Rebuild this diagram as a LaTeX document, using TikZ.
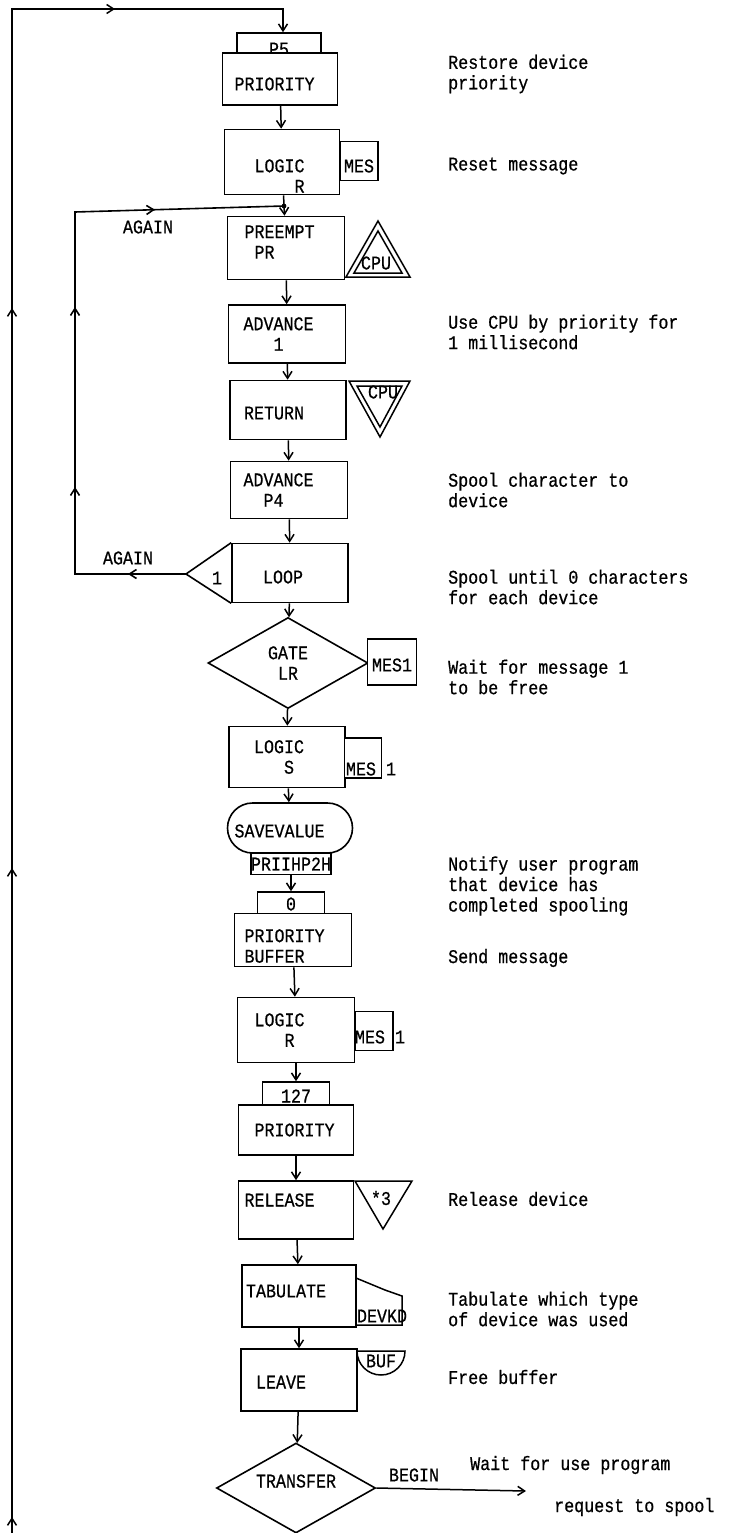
\documentclass[tikz,border=0pt]{standalone}
\usepackage{fontspec}
\setmainfont{Liberation Mono}[FakeStretch=0.86,FakeBold=0.6]
\usepackage{tikz}
\usetikzlibrary{arrows.meta,positioning,shapes.geometric,decorations.markings}

% struts to push box text down / up
\newcommand{\lowr}[1]{\rule{0pt}{#1}}
\newcommand{\raiser}[1]{\rule[-#1]{0pt}{0pt}}

\tikzset{
  barb/.tip={Straight Barb[length=7pt,width=9pt]},
  blk/.style={draw,line width=1.6pt,fill=white,inner sep=0pt,align=left},
  tabbox/.style={draw,line width=1.5pt,fill=white,inner sep=0pt},
  flow/.style={line width=1.5pt,-barb},
  note/.style={anchor=west,inner sep=0pt,align=left},
  txt/.style={inner sep=0pt}
}

\begin{document}
\begin{tikzpicture}[x=1pt,y=-1pt,font=\fontsize{19.4pt}{20.5pt}\selectfont]
\useasboundingbox (0,0) rectangle (730,1533);

% blocks, top to bottom
\node[tabbox,minimum width=84pt,minimum height=26pt] (p5) at (279,46) {\lowr{19pt}P5};
\node[blk,minimum width=115pt,minimum height=52pt,text width=91pt] (prio1) at (280,79) {\lowr{23pt}PRIORITY};
\node[blk,minimum width=115pt,minimum height=65pt,text width=55pt] (logr1) at (282,162) {\lowr{41pt}LOGIC\\\hphantom{LOGI}R};
\node[blk,minimum width=38pt,minimum height=39pt,align=center] (mes0) at (359,161) {\lowr{23pt}MES};
\node[blk,minimum width=117pt,minimum height=63pt,text width=83pt] (preempt) at (286,248) {PREEMPT\\\hphantom{P}PR\raiser{12pt}};
\node[blk,minimum width=117pt,minimum height=58pt,text width=87pt] (adv1) at (287,334) {ADVANCE\\\hphantom{ADV}1};
\node[blk,minimum width=116pt,minimum height=59pt,text width=88pt] (ret) at (288,410) {\lowr{19pt}RETURN};
\node[blk,minimum width=117pt,minimum height=57pt,text width=91pt] (adv2) at (289,490) {ADVANCE\\\hphantom{AD}P4};
\node[blk,minimum width=116pt,minimum height=59pt,text width=54pt] (loop) at (290,573) {\lowr{21pt}LOOP};
\node[draw,diamond,line width=1.6pt,minimum width=160pt,minimum height=91pt,
      inner sep=0pt,align=center] (gate) at (288,663) {GATE\\LR};
\node[blk,minimum width=49pt,minimum height=46pt,align=center] (mes1) at (392,662) {\lowr{19pt}MES1};
\node[blk,minimum width=116pt,minimum height=61pt,text width=66pt] (logs) at (287,757) {LOGIC\\\hphantom{LOG}S};
\node[blk,minimum width=37pt,minimum height=40pt] (mes2) at (363,758) {};
\node[txt] (mes2t) at (371,769) {MES\hphantom{M}1};
\node[blk,rounded corners=25pt,minimum width=125pt,minimum height=50pt,text width=111pt] (sv) at (290,828) {\lowr{19pt}SAVEVALUE};
\node[tabbox,minimum width=77pt,minimum height=21pt] (pri) at (291,864) {PRIIHP2H};
\node[tabbox,minimum width=67pt,minimum height=24pt] (zero) at (291,904) {0};
\node[blk,minimum width=117pt,minimum height=53pt,text width=97pt] (priobuf) at (293,940) {\lowr{25pt}PRIORITY\\BUFFER};
\node[blk,minimum width=117pt,minimum height=65pt,text width=83pt] (logr2) at (296,1030) {LOGIC\\\hphantom{LOG}R};
\node[blk,minimum width=38pt,minimum height=39pt] (mes3) at (374,1031) {};
\node[txt] (mes3t) at (380,1037) {MES\hphantom{M}1};
\node[tabbox,minimum width=67pt,minimum height=26pt] (t127) at (296,1095) {\lowr{15pt}127};
\node[blk,minimum width=115pt,minimum height=50pt,text width=83pt] (prio2) at (296,1130) {PRIORITY};
\node[blk,minimum width=115pt,minimum height=58pt,text width=103pt] (rel) at (296,1210) {RELEASE\raiser{20pt}};
\node[blk,minimum width=114pt,minimum height=62pt,text width=106pt] (tab) at (299,1296) {TABULATE\raiser{10pt}};
\node[blk,minimum width=116pt,minimum height=62pt,text width=86pt] (leave) at (299,1380) {\lowr{17pt}LEAVE};
\node[draw,diamond,aspect=1.8,line width=1.6pt,minimum width=159pt,minimum height=90pt,
      inner sep=0pt] (transfer) at (296,1488) {TRANSFER\raiser{14pt}};

% side shapes
\draw[line width=1.5pt,line join=miter] (378,221) -- (410,277) -- (346,277) -- cycle;
\draw[line width=1.5pt,line join=miter] (378,231) -- (402,273) -- (354,273) -- cycle;
\node[txt] (cpu1) at (376,263) {CPU};
\draw[line width=1.5pt,line join=miter] (349,381) -- (410,381) -- (380,437) -- cycle;
\draw[line width=1.5pt,line join=miter] (357,386) -- (402,386) -- (380,427) -- cycle;
\node[txt] (cpu2) at (383,392) {CPU};
\coordinate (ltip) at (186,574);
\draw[line width=1.6pt] (loop.north west) -- (ltip) -- (loop.south west);
\node[txt] (one) at (217,578) {1};
\draw[line width=1.5pt] (355,1181) -- (412,1181) -- (383,1229) -- cycle;
\node[txt] (star3) at (381,1198) {*3};
\draw[line width=1.5pt] (356,1278) -- (385,1290) -- (402,1296) -- (402,1325) -- (356,1325);
\node[txt] (devkd) at (382,1316) {DEVKD};
\draw[line width=1.5pt] (357,1351) -- (405,1351) arc (0:180:24);
\node[txt] (buf) at (381,1361) {BUF};

% connectors
\coordinate (jn) at (284,206);
\draw[flow] (prio1) -- (logr1);
\draw[flow] (logr1) -- (preempt);
\fill (jn) circle (2.4pt);
\draw[flow] (preempt) -- (adv1);
\draw[flow] (adv1) -- (ret);
\draw[flow] (ret) -- (adv2);
\draw[flow] (adv2) -- (loop);
\draw[flow] (loop) -- (gate);
\draw[flow] (gate) -- (logs);
\draw[flow] (logs) -- (sv);
\draw[flow] (pri) -- (zero);
\draw[flow] (priobuf) -- (logr2);
\draw[flow] (logr2) -- (t127);
\draw[flow] (prio2) -- (rel);
\draw[flow] (rel) -- (tab);
\draw[flow] (tab) -- (leave);
\draw[flow] (leave) -- (transfer);
\coordinate (bend) at (526,1491);
\draw[flow] (transfer.east) -- (bend);
\node[txt] (begin) at (414,1475) {BEGIN};

% AGAIN loop
\coordinate (cl) at (75,212);
\draw[line width=1.6pt,postaction={decorate},decoration={markings,
    mark=at position 58pt with {\arrow{barb}},
    mark=at position 198pt with {\arrow{barb}},
    mark=at position 378pt with {\arrow{barb}},
    mark=at position 553pt with {\arrow{barb}}}]
  (ltip) -| (cl) -- (jn);
\node[txt] (again1) at (148,227) {AGAIN};
\node[txt] (again2) at (128,558) {AGAIN};

% outer return line
\coordinate (ob) at (12,1533);
\coordinate (otr) at (283,9);
\draw[flow,postaction={decorate},decoration={markings,
    mark=at position 16pt with {\arrow{barb}},
    mark=at position 665pt with {\arrow{barb}},
    mark=at position 1225pt with {\arrow{barb}},
    mark=at position 1627pt with {\arrow{barb}}}]
  (ob) |- (otr) -- (otr |- p5.north);

% comments
\node[note] (c1) at (448,74) {Restore device\\priority};
\node[note] (c2) at (448,166) {Reset message};
\node[note] (c3) at (448,332) {Use CPU by priority for\\1 millisecond};
\node[note] (c4) at (448,490) {Spool character to\\device};
\node[note] (c5) at (448,587) {Spool until 0 characters\\for each device};
\node[note] (c6) at (448,677) {Wait for message 1\\to be free};
\node[note] (c7) at (448,886) {Notify user program\\that device has\\completed spooling};
\node[note] (c8) at (448,958) {Send message};
\node[note] (c9) at (448,1199) {Release device};
\node[note] (c10) at (448,1309) {Tabulate which type\\of device was used};
\node[note] (c11) at (448,1377) {Free buffer};
\node[note] (c12) at (470,1465) {Wait for use program};
\node[note] (c13) at (554,1507) {request to spool};
\end{tikzpicture}
\end{document}
